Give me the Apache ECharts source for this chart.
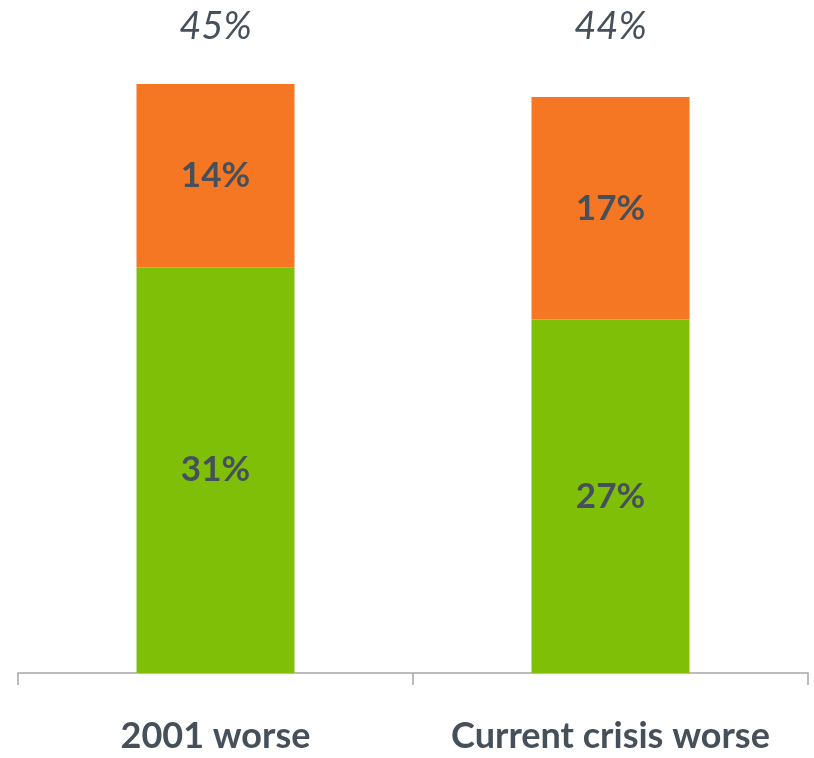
<!DOCTYPE html>
<html>
<head>
<meta charset="utf-8">
<script src="https://cdn.jsdelivr.net/npm/echarts@6/dist/echarts.min.js"></script>
<style>html,body{margin:0;padding:0;background:#fff}#c{width:814px;height:758px}</style>
</head>
<body>
<div id="c"></div>
<script>
const categories = ['2001 worse', 'Current crisis worse'];
const greenValues = [31, 27];
const orangeValues = [14, 17];
const totalLabels = ['45%', '44%'];

const textColor = '#46505a';
const fontFamily = 'Lato, "Open Sans", sans-serif';

const chart = echarts.init(document.getElementById('c'), null, {renderer: 'canvas'});
chart.setOption({
  animation: false,
  grid: {left: 18, right: 6, top: 84, bottom: 85, containLabel: false},
  xAxis: [
    {
      type: 'category',
      data: categories,
      axisLine: {show: true, lineStyle: {color: '#a6a6a6', width: 1.5}},
      axisTick: {show: true, interval: 0, length: 12, lineStyle: {color: '#a6a6a6', width: 1.5}},
      axisLabel: {interval: 0, hideOverlap: false, color: textColor, fontSize: 36, fontWeight: 'bold', fontFamily: fontFamily, margin: 45}
    },
    {
      type: 'category',
      position: 'top',
      data: totalLabels,
      axisLine: {show: false},
      axisTick: {show: false},
      axisLabel: {interval: 0, color: textColor, fontSize: 38, fontStyle: 'italic', fontFamily: fontFamily, margin: 38}
    }
  ],
  yAxis: {type: 'value', min: 0, max: 45, show: false, splitLine: {show: false}},
  series: [
    {
      type: 'bar', stack: 't', data: greenValues, barWidth: 158,
      itemStyle: {color: '#7fbf08'},
      label: {show: true, position: 'inside', formatter: '{c}%', color: textColor, fontSize: 35, fontWeight: 'bold', fontFamily: fontFamily}
    },
    {
      type: 'bar', stack: 't', data: orangeValues, barWidth: 158,
      itemStyle: {color: '#f57724'},
      label: {show: true, position: 'inside', formatter: '{c}%', color: textColor, fontSize: 35, fontWeight: 'bold', fontFamily: fontFamily}
    }
  ]
});
</script>
</body>
</html>
